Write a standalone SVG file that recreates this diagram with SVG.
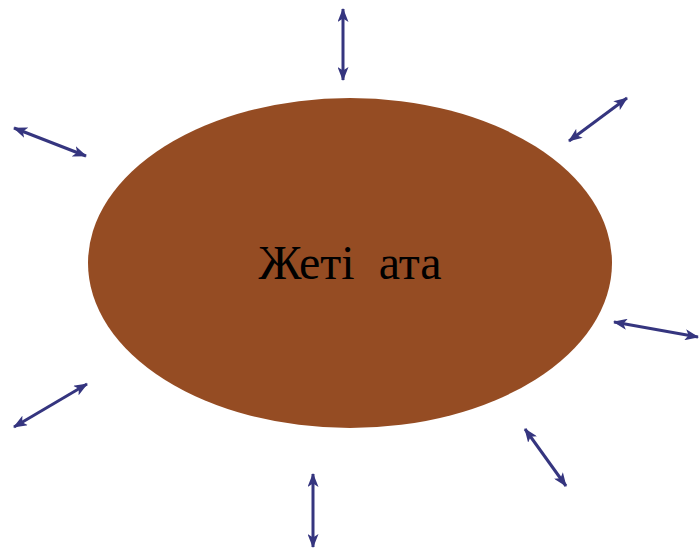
<svg xmlns="http://www.w3.org/2000/svg" width="699" height="551" viewBox="0 0 699 551">
<style>
.c{stroke:#35357f;stroke-width:3;fill:none;marker-start:url(#ah);marker-end:url(#ah)}
.t{font-family:"Liberation Serif","Times New Roman",serif;font-size:48px;fill:#000;white-space:pre}
</style>
<defs>
<marker id="ah" viewBox="0 0 14 11" refX="13" refY="5.5" markerWidth="14" markerHeight="11" markerUnits="userSpaceOnUse" orient="auto-start-reverse">
<path d="M0,0 L14,5.5 L0,11 L3.5,5.5 Z" fill="#35357f"/>
</marker>
</defs>
<rect width="699" height="551" fill="#fff"/>
<g id="center">
<ellipse cx="350" cy="263" rx="262" ry="165" fill="#954c23"/>
<text class="t" x="350" y="279" text-anchor="middle">Жеті  ата</text>
</g>
<g id="connectors">
<line class="c" x1="343" y1="9" x2="343" y2="80"/>
<line class="c" x1="14" y1="128" x2="86" y2="156"/>
<line class="c" x1="569" y1="141" x2="627" y2="98"/>
<line class="c" x1="614" y1="322" x2="698" y2="337"/>
<line class="c" x1="14" y1="427" x2="87" y2="384"/>
<line class="c" x1="525" y1="429" x2="566" y2="486"/>
<line class="c" x1="313" y1="474" x2="313" y2="547"/>
</g>
</svg>
